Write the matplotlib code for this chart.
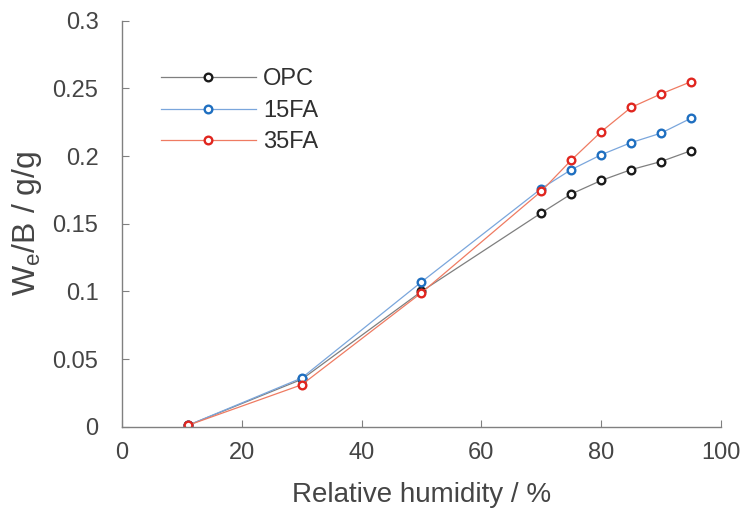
from matplotlib import pyplot as plt

# data
rh = [11, 30, 50, 70, 75, 80, 85, 90, 95]
opc = [0.001, 0.035, 0.100, 0.158, 0.172, 0.182, 0.190, 0.196, 0.204]
fa15 = [0.001, 0.036, 0.107, 0.176, 0.190, 0.201, 0.210, 0.217, 0.228]
fa35 = [0.001, 0.031, 0.099, 0.174, 0.197, 0.218, 0.236, 0.246, 0.255]

series = [
    ('OPC', opc, '#7f7f7f', '#1a1a1a'),
    ('15FA', fa15, '#7aa6dc', '#1f6fc0'),
    ('35FA', fa35, '#ef7b62', '#e0261f'),
]

plt.rcParams['font.family'] = ['Liberation Sans', 'DejaVu Sans']

fig = plt.figure(figsize=(7.44, 5.08), dpi=100)
ax = fig.add_axes([0.164, 0.160, 0.805, 0.799])

for name, vals, lc, mc in series:
    ax.plot(rh, vals, '-', color=lc, linewidth=0.9, marker='o', markersize=5.5,
            markerfacecolor='white', markeredgecolor=mc, markeredgewidth=1.7,
            label=name)

ax.set_xlim(0, 100)
ax.set_ylim(0, 0.3)
ax.set_xticks([0, 20, 40, 60, 80, 100])
ax.set_yticks([0, 0.05, 0.1, 0.15, 0.2, 0.25, 0.3])
ax.set_yticklabels(['0', '0.05', '0.1', '0.15', '0.2', '0.25', '0.3'])

for side in ['top', 'right']:
    ax.spines[side].set_visible(False)
for side in ['left', 'bottom']:
    ax.spines[side].set_color('#808080')
    ax.spines[side].set_linewidth(1.0)
ax.tick_params(direction='in', length=5, color='#808080', labelcolor='#454545',
               labelsize=17)
ax.tick_params(axis='x', pad=11)
ax.tick_params(axis='y', pad=17)

ax.set_xlabel('Relative humidity / %', fontsize=20, color='#454545', labelpad=13)
ax.set_ylabel('W$_\\mathregular{e}$/B / g/g', fontsize=23, color='#454545', labelpad=6)

ax.legend(loc='upper left', bbox_to_anchor=(0.03, 0.935), frameon=False,
          fontsize=17, handlelength=4.0, handletextpad=0.3, labelspacing=0.4,
          labelcolor='#303030')

plt.savefig('out.png')
